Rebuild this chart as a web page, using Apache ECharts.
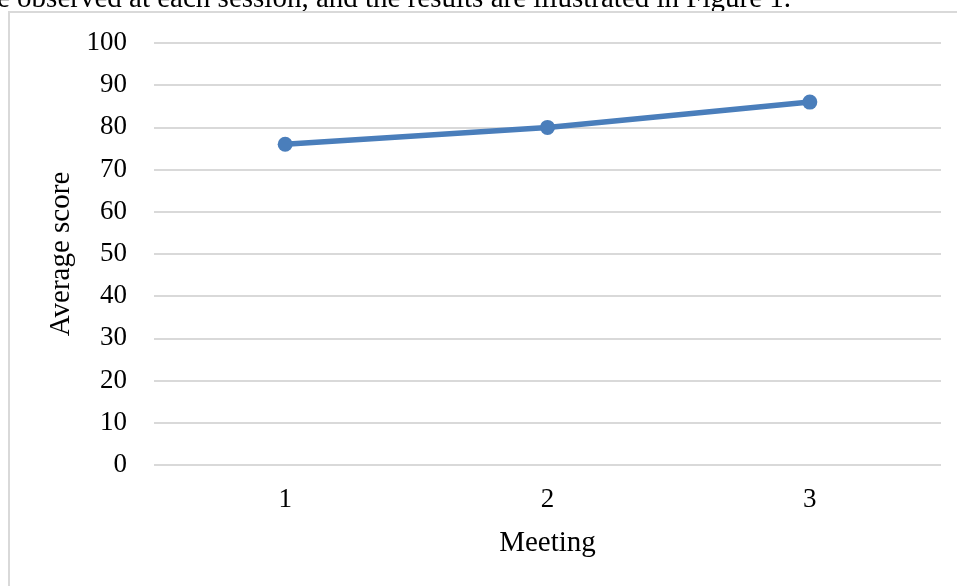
<!DOCTYPE html>
<html>
<head>
<meta charset="utf-8">
<script src="https://cdn.jsdelivr.net/npm/echarts@6/dist/echarts.min.js"></script>
<style>
  html, body { margin: 0; padding: 0; background: #fff; }
  #chart { width: 957px; height: 586px; }
</style>
</head>
<body>
<div id="chart"></div>
<script>
// Meeting numbers and the average score recorded at each one
const meetings = ['1', '2', '3'];
const averageScores = [76, 80, 86];
const yTicks = { min: 0, max: 100, interval: 10 };

const serif = '"Liberation Serif", "DejaVu Serif", serif';

const chart = echarts.init(document.getElementById('chart'), null, { renderer: 'canvas' });

chart.setOption({
  backgroundColor: '#ffffff',
  animation: false,
  graphic: [
    {
      // running text line above the figure frame
      type: 'text',
      left: -3,
      top: -15,
      style: {
        text: 'e observed at each session, and the results are illustrated in Figure 1.',
        font: '29px ' + serif,
        fill: '#000000'
      }
    },
    {
      // figure frame
      type: 'rect',
      shape: { x: 9, y: 12, width: 1000, height: 700 },
      style: { fill: 'none', stroke: '#d9d9d9', lineWidth: 2 }
    }
  ],
  grid: {
    left: 154,
    right: 16,
    top: 43,
    bottom: 121,
    containLabel: false
  },
  xAxis: {
    type: 'category',
    data: meetings,
    boundaryGap: true,
    name: 'Meeting',
    nameLocation: 'middle',
    nameGap: 64,
    nameTextStyle: { fontFamily: serif, fontSize: 29, color: '#000' },
    axisLine: { show: false },
    axisTick: { show: false },
    axisLabel: { fontFamily: serif, fontSize: 27, color: '#000', margin: 21 }
  },
  yAxis: {
    type: 'value',
    min: yTicks.min,
    max: yTicks.max,
    interval: yTicks.interval,
    name: 'Average score',
    nameLocation: 'middle',
    nameGap: 78,
    nameRotate: 90,
    nameTextStyle: { fontFamily: serif, fontSize: 29, color: '#000' },
    axisLine: { show: false },
    axisTick: { show: false },
    axisLabel: { fontFamily: serif, fontSize: 27, color: '#000', margin: 27 },
    splitLine: { lineStyle: { color: '#d9d9d9', width: 2 } }
  },
  series: [
    {
      type: 'line',
      data: averageScores,
      symbol: 'circle',
      symbolSize: 15,
      lineStyle: { color: '#4a7ebb', width: 5.5 },
      itemStyle: { color: '#4a7ebb' }
    }
  ]
});
</script>
</body>
</html>
